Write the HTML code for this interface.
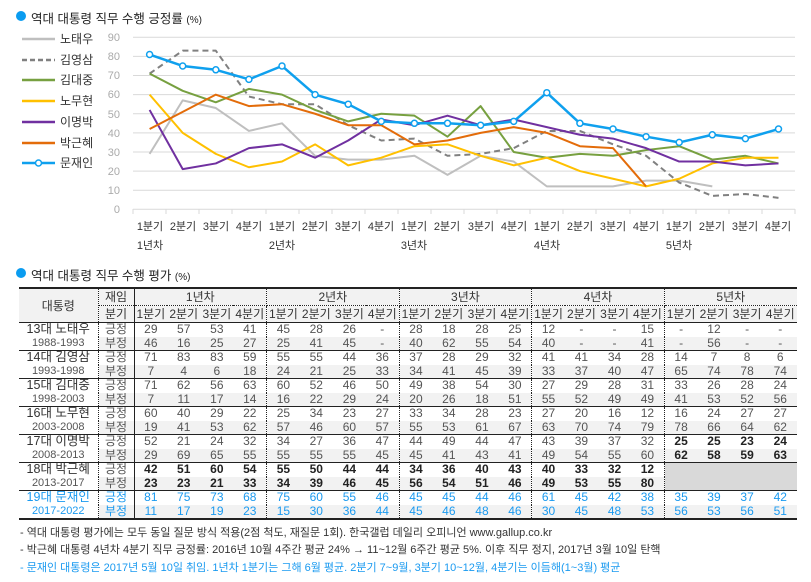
<!DOCTYPE html>
<html><head><meta charset="utf-8"><style>
body{margin:0;width:811px;height:582px;background:#fff;font-family:"Liberation Sans","Noto Sans CJK KR",sans-serif;position:relative;overflow:hidden}
.t{position:absolute;font-size:12.5px;color:#222;white-space:nowrap}
.dot{position:absolute;width:10px;height:10px;border-radius:50%;background:#0a9cf0}
table{position:absolute;left:19px;top:287px;border-collapse:collapse;table-layout:fixed;font-size:12px;color:#555;border-top:2px solid #222;border-bottom:2px solid #222}
td{height:13.5px;padding:0;text-align:center;line-height:13px;white-space:nowrap;overflow:hidden}
tr.h td{background:#f2f2f2;color:#333;height:16px;line-height:16px}
tr.n td.q,tr.n td.r{background:#f2f2f2}
td.p{font-size:12.5px;color:#333}
td.yr{font-size:11px;color:#555}
tr.g td{border-top:1.5px solid #222}
.dl{border-right:1px dotted #222}
.sl{border-right:1.5px solid #222}
.b td.q{font-weight:bold;color:#222}
.bl td{color:#1a9af0}
.k{font-weight:bold;color:#222}
.fn{position:absolute;left:20px;font-size:11px;color:#333;white-space:nowrap}
</style></head><body>
<div class="dot" style="left:16px;top:11px"></div>
<div class="t" style="left:31px;top:8px">역대 대통령 직무 수행 긍정률 <span style="font-size:10px">(%)</span></div>
<svg style="position:absolute;left:0;top:0" width="811" height="260">
<g stroke="#d9d9d9" stroke-width="1">
<line x1="133" x2="795" y1="37.3" y2="37.3"/><line x1="133" x2="795" y1="56.4" y2="56.4"/><line x1="133" x2="795" y1="75.5" y2="75.5"/><line x1="133" x2="795" y1="94.6" y2="94.6"/><line x1="133" x2="795" y1="113.8" y2="113.8"/><line x1="133" x2="795" y1="132.9" y2="132.9"/><line x1="133" x2="795" y1="152" y2="152"/><line x1="133" x2="795" y1="171.1" y2="171.1"/><line x1="133" x2="795" y1="190.2" y2="190.2"/><line x1="133" x2="795" y1="209.3" y2="209.3"/>
</g>
<g stroke="#d9d9d9"><path d="M133 209v5M166 209v5M199 209v5M232 209v5M266 209v5M299 209v5M332 209v5M365 209v5M398 209v5M431 209v5M464 209v5M497 209v5M530 209v5M563 209v5M596 209v5M630 209v5M663 209v5M696 209v5M729 209v5M762 209v5M795 209v5"/></g>
<g font-size="11" fill="#aaa" text-anchor="end" font-family="Liberation Sans, sans-serif">
<text x="120" y="41">90</text><text x="120" y="60">80</text><text x="120" y="79">70</text><text x="120" y="98">60</text><text x="120" y="118">50</text><text x="120" y="137">40</text><text x="120" y="156">30</text><text x="120" y="175">20</text><text x="120" y="194">10</text><text x="120" y="213">0</text>
</g>
<g font-size="11" fill="#333" text-anchor="middle" font-family="Liberation Sans, Noto Sans CJK KR, sans-serif">
<text x="150" y="230">1분기</text><text x="183" y="230">2분기</text><text x="216" y="230">3분기</text><text x="249" y="230">4분기</text>
<text x="282" y="230">1분기</text><text x="315" y="230">2분기</text><text x="348" y="230">3분기</text><text x="381" y="230">4분기</text>
<text x="414" y="230">1분기</text><text x="447" y="230">2분기</text><text x="481" y="230">3분기</text><text x="514" y="230">4분기</text>
<text x="547" y="230">1분기</text><text x="580" y="230">2분기</text><text x="613" y="230">3분기</text><text x="646" y="230">4분기</text>
<text x="679" y="230">1분기</text><text x="712" y="230">2분기</text><text x="745" y="230">3분기</text><text x="778" y="230">4분기</text>
<text x="150" y="249">1년차</text><text x="282" y="249">2년차</text><text x="414" y="249">3년차</text><text x="547" y="249">4년차</text><text x="679" y="249">5년차</text>
</g>
<g transform="translate(0,209.3) scale(1,-1.911)" fill="none" stroke-width="2" stroke-linejoin="round">
<polyline vector-effect="non-scaling-stroke" stroke="#bfbfbf" points="149.6,29 182.7,57 215.8,53 248.9,41 282,45 315.1,28 348.2,26 381.3,26 414.4,28 447.5,18 480.6,28 513.7,25 546.8,12 579.9,12 613,12 646.1,15 679.2,15 712.3,12"/>
<polyline vector-effect="non-scaling-stroke" stroke="#808080" stroke-dasharray="6,4" points="149.6,71 182.7,83 215.8,83 248.9,59 282,55 315.1,55 348.2,44 381.3,36 414.4,37 447.5,28 480.6,29 513.7,32 546.8,41 579.9,41 613,34 646.1,28 679.2,14 712.3,7 745.4,8 778.5,6"/>
<polyline vector-effect="non-scaling-stroke" stroke="#77a040" points="149.6,71 182.7,62 215.8,56 248.9,63 282,60 315.1,52 348.2,46 381.3,50 414.4,49 447.5,38 480.6,54 513.7,30 546.8,27 579.9,29 613,28 646.1,31 679.2,33 712.3,26 745.4,28 778.5,24"/>
<polyline vector-effect="non-scaling-stroke" stroke="#ffc000" points="149.6,60 182.7,40 215.8,29 248.9,22 282,25 315.1,34 348.2,23 381.3,27 414.4,33 447.5,34 480.6,28 513.7,23 546.8,27 579.9,20 613,16 646.1,12 679.2,16 712.3,24 745.4,27 778.5,27"/>
<polyline vector-effect="non-scaling-stroke" stroke="#7030a0" points="149.6,52 182.7,21 215.8,24 248.9,32 282,34 315.1,27 348.2,36 381.3,47 414.4,44 447.5,49 480.6,44 513.7,47 546.8,43 579.9,39 613,37 646.1,32 679.2,25 712.3,25 745.4,23 778.5,24"/>
<polyline vector-effect="non-scaling-stroke" stroke="#e36c0a" points="149.6,42 182.7,51 215.8,60 248.9,54 282,55 315.1,50 348.2,44 381.3,44 414.4,34 447.5,36 480.6,40 513.7,43 546.8,40 579.9,33 613,32 646.1,12"/>
<polyline vector-effect="non-scaling-stroke" stroke="#0fa0ee" stroke-width="2.5" points="149.6,81 182.7,75 215.8,73 248.9,68 282,75 315.1,60 348.2,55 381.3,46 414.4,45 447.5,45 480.6,44 513.7,46 546.8,61 579.9,45 613,42 646.1,38 679.2,35 712.3,39 745.4,37 778.5,42"/>
</g>
<g fill="#fff" stroke="#0fa0ee" stroke-width="1.5">
<circle cx="149.6" cy="54.5" r="3"/><circle cx="182.7" cy="66" r="3"/><circle cx="215.8" cy="69.8" r="3"/><circle cx="248.9" cy="79.4" r="3"/><circle cx="282" cy="66" r="3"/><circle cx="315.1" cy="94.6" r="3"/><circle cx="348.2" cy="104.2" r="3"/><circle cx="381.3" cy="121.4" r="3"/><circle cx="414.4" cy="123.3" r="3"/><circle cx="447.5" cy="123.3" r="3"/><circle cx="480.6" cy="125.2" r="3"/><circle cx="513.7" cy="121.4" r="3"/><circle cx="546.8" cy="92.7" r="3"/><circle cx="579.9" cy="123.3" r="3"/><circle cx="613" cy="129" r="3"/><circle cx="646.1" cy="136.7" r="3"/><circle cx="679.2" cy="142.4" r="3"/><circle cx="712.3" cy="134.8" r="3"/><circle cx="745.4" cy="138.6" r="3"/><circle cx="778.5" cy="129" r="3"/>
</g>
<g stroke-width="2.5">
<line x1="22" x2="55" y1="39" y2="39" stroke="#bfbfbf"/>
<line x1="22" x2="55" y1="60" y2="60" stroke="#808080" stroke-dasharray="5,3"/>
<line x1="22" x2="55" y1="80" y2="80" stroke="#77a040"/>
<line x1="22" x2="55" y1="101" y2="101" stroke="#ffc000"/>
<line x1="22" x2="55" y1="122" y2="122" stroke="#7030a0"/>
<line x1="22" x2="55" y1="143" y2="143" stroke="#e36c0a"/>
<line x1="22" x2="55" y1="163" y2="163" stroke="#0fa0ee"/>
<circle cx="38.5" cy="163" r="3" fill="#fff" stroke="#0fa0ee" stroke-width="1.5"/>
</g>
<g font-size="12" fill="#333" font-family="Liberation Sans, Noto Sans CJK KR, sans-serif">
<text x="60" y="43">노태우</text><text x="60" y="64">김영삼</text><text x="60" y="84">김대중</text><text x="60" y="105">노무현</text><text x="60" y="126">이명박</text><text x="60" y="147">박근혜</text><text x="60" y="167">문재인</text>
</g>
</svg>
<div class="dot" style="left:16px;top:268px"></div>
<div class="t" style="left:31px;top:265px">역대 대통령 직무 수행 평가 <span style="font-size:10px">(%)</span></div>
<table>
<colgroup><col style="width:79px"><col style="width:36px"><col span="20" style="width:33.15px"></colgroup>
<tr class="h"><td rowspan="2" class="dl p" style="font-size:12px">대통령</td><td class="sl" style="border-bottom:1px dotted #222">재임</td><td colspan="4" class="dl" style="border-bottom:1px dotted #222">1년차</td><td colspan="4" class="dl" style="border-bottom:1px dotted #222">2년차</td><td colspan="4" class="dl" style="border-bottom:1px dotted #222">3년차</td><td colspan="4" class="dl" style="border-bottom:1px dotted #222">4년차</td><td colspan="4" style="border-bottom:1px dotted #222">5년차</td></tr>
<tr class="h" style="border-bottom:1.5px solid #222"><td class="sl">분기</td><td>1분기</td><td>2분기</td><td>3분기</td><td class="dl">4분기</td><td>1분기</td><td>2분기</td><td>3분기</td><td class="dl">4분기</td><td>1분기</td><td>2분기</td><td>3분기</td><td class="dl">4분기</td><td>1분기</td><td>2분기</td><td>3분기</td><td class="dl">4분기</td><td>1분기</td><td>2분기</td><td>3분기</td><td>4분기</td></tr>

<tr><td class="p dl">13대 노태우</td><td class="r sl">긍정</td><td class="q">29</td><td class="q">57</td><td class="q">53</td><td class="q dl">41</td><td class="q">45</td><td class="q">28</td><td class="q">26</td><td class="q dl">-</td><td class="q">28</td><td class="q">18</td><td class="q">28</td><td class="q dl">25</td><td class="q">12</td><td class="q">-</td><td class="q">-</td><td class="q dl">15</td><td class="q">-</td><td class="q">12</td><td class="q">-</td><td class="q">-</td></tr>
<tr class="n"><td class="yr dl">1988-1993</td><td class="r sl">부정</td><td class="q">46</td><td class="q">16</td><td class="q">25</td><td class="q dl">27</td><td class="q">25</td><td class="q">41</td><td class="q">45</td><td class="q dl">-</td><td class="q">40</td><td class="q">62</td><td class="q">55</td><td class="q dl">54</td><td class="q">40</td><td class="q">-</td><td class="q">-</td><td class="q dl">41</td><td class="q">-</td><td class="q">56</td><td class="q">-</td><td class="q">-</td></tr>

<tr class="g"><td class="p dl">14대 김영삼</td><td class="r sl">긍정</td><td class="q">71</td><td class="q">83</td><td class="q">83</td><td class="q dl">59</td><td class="q">55</td><td class="q">55</td><td class="q">44</td><td class="q dl">36</td><td class="q">37</td><td class="q">28</td><td class="q">29</td><td class="q dl">32</td><td class="q">41</td><td class="q">41</td><td class="q">34</td><td class="q dl">28</td><td class="q">14</td><td class="q">7</td><td class="q">8</td><td class="q">6</td></tr>
<tr class="n"><td class="yr dl">1993-1998</td><td class="r sl">부정</td><td class="q">7</td><td class="q">4</td><td class="q">6</td><td class="q dl">18</td><td class="q">24</td><td class="q">21</td><td class="q">25</td><td class="q dl">33</td><td class="q">34</td><td class="q">41</td><td class="q">45</td><td class="q dl">39</td><td class="q">33</td><td class="q">37</td><td class="q">40</td><td class="q dl">47</td><td class="q">65</td><td class="q">74</td><td class="q">78</td><td class="q">74</td></tr>

<tr class="g"><td class="p dl">15대 김대중</td><td class="r sl">긍정</td><td class="q">71</td><td class="q">62</td><td class="q">56</td><td class="q dl">63</td><td class="q">60</td><td class="q">52</td><td class="q">46</td><td class="q dl">50</td><td class="q">49</td><td class="q">38</td><td class="q">54</td><td class="q dl">30</td><td class="q">27</td><td class="q">29</td><td class="q">28</td><td class="q dl">31</td><td class="q">33</td><td class="q">26</td><td class="q">28</td><td class="q">24</td></tr>
<tr class="n"><td class="yr dl">1998-2003</td><td class="r sl">부정</td><td class="q">7</td><td class="q">11</td><td class="q">17</td><td class="q dl">14</td><td class="q">16</td><td class="q">22</td><td class="q">29</td><td class="q dl">24</td><td class="q">20</td><td class="q">26</td><td class="q">18</td><td class="q dl">51</td><td class="q">55</td><td class="q">52</td><td class="q">49</td><td class="q dl">49</td><td class="q">41</td><td class="q">53</td><td class="q">52</td><td class="q">56</td></tr>

<tr class="g"><td class="p dl">16대 노무현</td><td class="r sl">긍정</td><td class="q">60</td><td class="q">40</td><td class="q">29</td><td class="q dl">22</td><td class="q">25</td><td class="q">34</td><td class="q">23</td><td class="q dl">27</td><td class="q">33</td><td class="q">34</td><td class="q">28</td><td class="q dl">23</td><td class="q">27</td><td class="q">20</td><td class="q">16</td><td class="q dl">12</td><td class="q">16</td><td class="q">24</td><td class="q">27</td><td class="q">27</td></tr>
<tr class="n"><td class="yr dl">2003-2008</td><td class="r sl">부정</td><td class="q">19</td><td class="q">41</td><td class="q">53</td><td class="q dl">62</td><td class="q">57</td><td class="q">46</td><td class="q">60</td><td class="q dl">57</td><td class="q">55</td><td class="q">53</td><td class="q">61</td><td class="q dl">67</td><td class="q">63</td><td class="q">70</td><td class="q">74</td><td class="q dl">79</td><td class="q">78</td><td class="q">66</td><td class="q">64</td><td class="q">62</td></tr>

<tr class="g"><td class="p dl">17대 이명박</td><td class="r sl">긍정</td><td class="q">52</td><td class="q">21</td><td class="q">24</td><td class="q dl">32</td><td class="q">34</td><td class="q">27</td><td class="q">36</td><td class="q dl">47</td><td class="q">44</td><td class="q">49</td><td class="q">44</td><td class="q dl">47</td><td class="q">43</td><td class="q">39</td><td class="q">37</td><td class="q dl">32</td><td class="q k">25</td><td class="q k">25</td><td class="q k">23</td><td class="q k">24</td></tr>
<tr class="n"><td class="yr dl">2008-2013</td><td class="r sl">부정</td><td class="q">29</td><td class="q">69</td><td class="q">65</td><td class="q dl">55</td><td class="q">55</td><td class="q">55</td><td class="q">55</td><td class="q dl">45</td><td class="q">45</td><td class="q">41</td><td class="q">43</td><td class="q dl">41</td><td class="q">49</td><td class="q">54</td><td class="q">55</td><td class="q dl">60</td><td class="q k">62</td><td class="q k">58</td><td class="q k">59</td><td class="q k">63</td></tr>

<tr class="g b"><td class="p dl">18대 박근혜</td><td class="r sl">긍정</td><td class="q">42</td><td class="q">51</td><td class="q">60</td><td class="q dl">54</td><td class="q">55</td><td class="q">50</td><td class="q">44</td><td class="q dl">44</td><td class="q">34</td><td class="q">36</td><td class="q">40</td><td class="q dl">43</td><td class="q">40</td><td class="q">33</td><td class="q">32</td><td class="q dl">12</td><td colspan="4" rowspan="2" style="background:#d9d9d9"></td></tr>
<tr class="n b"><td class="yr dl">2013-2017</td><td class="r sl">부정</td><td class="q">23</td><td class="q">23</td><td class="q">21</td><td class="q dl">33</td><td class="q">34</td><td class="q">39</td><td class="q">46</td><td class="q dl">45</td><td class="q">56</td><td class="q">54</td><td class="q">51</td><td class="q dl">46</td><td class="q">49</td><td class="q">53</td><td class="q">55</td><td class="q dl">80</td></tr>

<tr class="g bl"><td class="p dl" style="color:#1a9af0">19대 문재인</td><td class="r sl">긍정</td><td class="q">81</td><td class="q">75</td><td class="q">73</td><td class="q dl">68</td><td class="q">75</td><td class="q">60</td><td class="q">55</td><td class="q dl">46</td><td class="q">45</td><td class="q">45</td><td class="q">44</td><td class="q dl">46</td><td class="q">61</td><td class="q">45</td><td class="q">42</td><td class="q dl">38</td><td class="q">35</td><td class="q">39</td><td class="q">37</td><td class="q">42</td></tr>
<tr class="n bl"><td class="yr dl">2017-2022</td><td class="r sl">부정</td><td class="q">11</td><td class="q">17</td><td class="q">19</td><td class="q dl">23</td><td class="q">15</td><td class="q">30</td><td class="q">36</td><td class="q dl">44</td><td class="q">45</td><td class="q">46</td><td class="q">48</td><td class="q dl">46</td><td class="q">30</td><td class="q">45</td><td class="q">48</td><td class="q dl">53</td><td class="q">56</td><td class="q">53</td><td class="q">56</td><td class="q">51</td></tr>
</table>
<div class="fn" style="top:524px">- 역대 대통령 평가에는 모두 동일 질문 방식 적용(2점 척도, 재질문 1회). 한국갤럽 데일리 오피니언 www.gallup.co.kr</div>
<div class="fn" style="top:541px">- 박근혜 대통령 4년차 4분기 직무 긍정률: 2016년 10월 4주간 평균 24% → 11~12월 6주간 평균 5%. 이후 직무 정지, 2017년 3월 10일 탄핵</div>
<div class="fn" style="top:559px;color:#1a9af0">- 문재인 대통령은 2017년 5월 10일 취임. 1년차 1분기는 그해 6월 평균. 2분기 7~9월, 3분기 10~12월, 4분기는 이듬해(1~3월) 평균</div>
</body></html>
